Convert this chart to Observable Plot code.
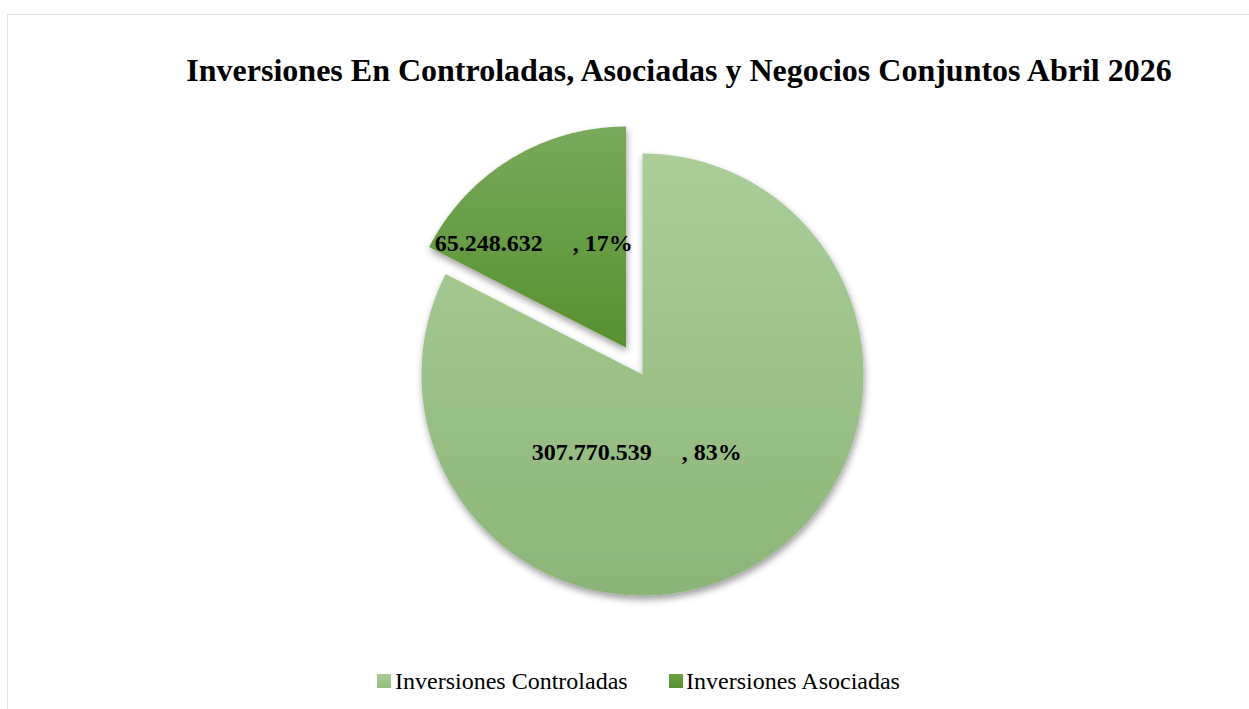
<!DOCTYPE html>
<html><head><meta charset="utf-8">
<script src="https://cdn.jsdelivr.net/npm/d3@7"></script>
<script src="https://cdn.jsdelivr.net/npm/@observablehq/plot@0.6"></script>
<style>
html,body{margin:0;padding:0;background:#fff;}
body{width:1249px;height:709px;overflow:hidden;position:relative;font-family:"Liberation Serif","Times New Roman",serif;}
#frame{position:absolute;left:7px;top:14px;width:1270px;height:740px;border:1.5px solid #dfe5ec;box-sizing:border-box;}
#title{position:absolute;left:679px;top:54px;transform:translateX(-50%);white-space:nowrap;font-weight:bold;font-size:32px;line-height:32px;color:#000;}
#chart{position:absolute;left:0;top:110px;}
.leg{position:absolute;top:669px;font-size:24px;line-height:24px;white-space:nowrap;color:#000;}
.sw{position:absolute;width:14px;height:14px;top:674px;}
</style></head>
<body>
<div id="frame"></div>
<div id="title">Inversiones En Controladas, Asociadas y Negocios Conjuntos Abril 2026</div>
<div id="chart"></div>
<div class="sw" style="left:377px;background:linear-gradient(#aacd97,#94bd81);"></div>
<div class="leg" id="l0" style="left:395px;"></div>
<div class="sw" style="left:669px;background:linear-gradient(#6aa246,#578f33);"></div>
<div class="leg" id="l1" style="left:686px;"></div>
<script>
// ---- data ----
const categories = ["Inversiones Controladas", "Inversiones Asociadas"];
const values = [307770539, 65248632];

// ---- style ----
const gradTop = ["#abce99", "#79a95c"];
const gradBottom = ["#8bb578", "#56912f"];
const EXPLODE = [0, 0.143];

document.getElementById("l0").textContent = categories[0];
document.getElementById("l1").textContent = categories[1];

const loc = d3.formatLocale({decimal: ",", thousands: ".", grouping: [3], currency: ["$", ""]});
const fmt = loc.format(",d");
const total = d3.sum(values);

const arcs = d3.pie().sort(null).value(d => d)(values);
const slices = arcs.map((a, i) => {
  const mid = (a.startAngle + a.endAngle) / 2;
  const ox = EXPLODE[i] * Math.sin(mid), oy = EXPLODE[i] * Math.cos(mid);
  const pts = [{x: ox, y: oy}];
  const n = Math.ceil((a.endAngle - a.startAngle) / (Math.PI / 360));
  for (let k = 0; k <= n; k++) {
    const t = a.startAngle + (a.endAngle - a.startAngle) * k / n;
    pts.push({x: ox + Math.sin(t), y: oy + Math.cos(t)});
  }
  return {cat: categories[i], value: values[i], mid, ox, oy, pts,
    label: fmt(values[i]) + "\u00A0\u00A0\u00A0\u00A0\u00A0, " + Math.round(values[i] / total * 100) + "%"};
});

const W = 1249, H = 530, cx = 642, cy = 264, R = 221;

const defs = () => {
  const ns = "http://www.w3.org/2000/svg";
  const d = document.createElementNS(ns, "defs");
  d.innerHTML = slices.map((s, i) =>
    `<linearGradient id="g${i}" x1="0" y1="0" x2="0" y2="1">
       <stop offset="0" stop-color="${gradTop[i]}"/><stop offset="1" stop-color="${gradBottom[i]}"/>
     </linearGradient>`).join("") +
    `<filter id="sh" x="-20%" y="-20%" width="140%" height="140%">
       <feDropShadow dx="1" dy="4" stdDeviation="3.5" flood-color="#000" flood-opacity="0.38"/>
     </filter>`;
  return d;
};

const labelMark = (i, r, dx, dy) => Plot.text([slices[i]], {
  x: s => s.ox + r * Math.sin(s.mid),
  y: s => s.oy + r * Math.cos(s.mid),
  text: "label", dx, dy,
  fontFamily: "Liberation Serif, Times New Roman, serif",
  fontWeight: "bold", fontSize: 24, fill: "#000",
  textAnchor: "middle", lineAnchor: "middle"
});

const plot = Plot.plot({
  width: W, height: H, margin: 0,
  style: {background: "transparent", maxWidth: "none", overflow: "visible"},
  x: {domain: [-1, 1], range: [cx - R, cx + R], axis: null},
  y: {domain: [-1, 1], range: [cy + R, cy - R], axis: null},
  marks: [
    defs,
    ...slices.map((s, i) => Plot.line(s.pts, {x: "x", y: "y", fill: `url(#g${i})`, stroke: "none", curve: "linear-closed", className: "slice"})),
    labelMark(0, 0.4, -52, 2),
    labelMark(1, 0.6, -23, 9)
  ]
});
plot.querySelectorAll(".slice path").forEach(p => p.setAttribute("filter", "url(#sh)"));
document.getElementById("chart").appendChild(plot);
</script>
</body></html>
